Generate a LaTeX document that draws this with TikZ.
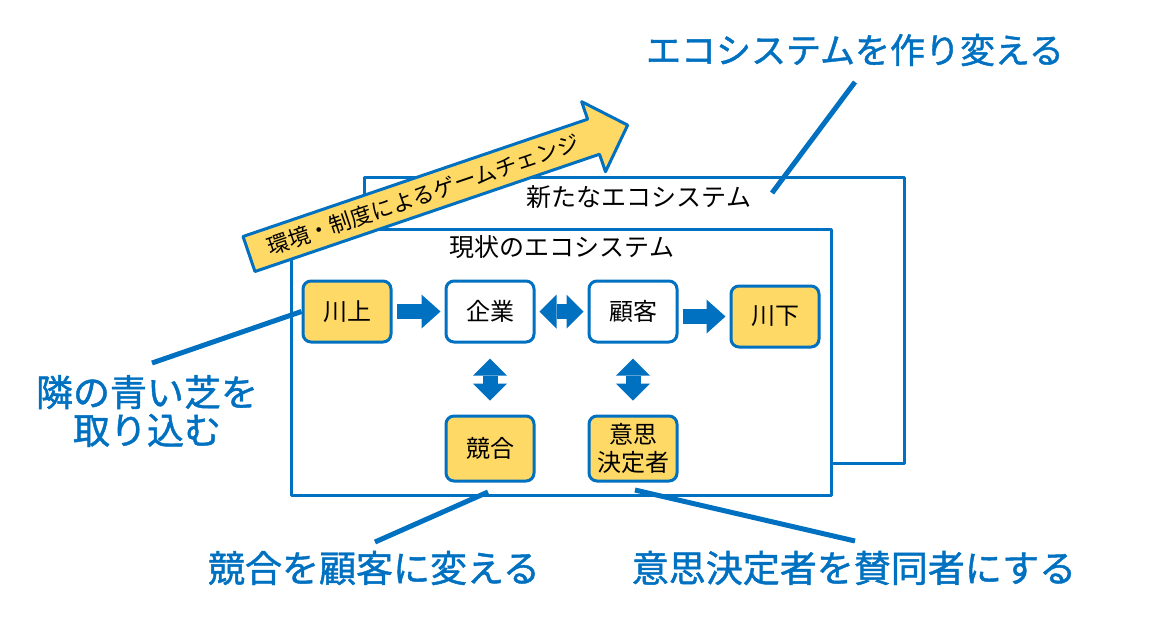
\documentclass[tikz,border=0pt]{standalone}
\usepackage{fontspec}
\setmainfont{Noto Sans CJK JP}
\newfontfamily\memofont{Noto Sans CJK JP}[FakeBold=1.2]
\usetikzlibrary{arrows.meta}
\definecolor{ecoblue}{HTML}{0070C0}
\definecolor{ecoyellow}{HTML}{FFD966}

\begin{document}
\begin{tikzpicture}[line cap=round,line join=round,x=0.5pt,y=-0.5pt,
  actor/.style={draw=ecoblue,line width=1.5pt,rounded corners=4pt,fill=ecoyellow,
    minimum width=44pt,minimum height=30.5pt,inner sep=0pt,align=center,
    font=\fontsize{12pt}{14pt}\selectfont},
  firm/.style={actor,fill=white},
  eco/.style={draw=ecoblue,line width=1.5pt,fill=white},
  ecolabel/.style={inner sep=0pt,font=\fontsize{12.5pt}{15pt}\selectfont},
  memo/.style={text=ecoblue,inner sep=0pt,align=center,
    font=\fontsize{18.5pt}{19pt}\memofont},
  lead/.style={draw=ecoblue,line width=2.5pt,line cap=butt},
  flow/.style={draw=ecoblue,line width=7.5pt,line cap=butt,shorten <=2pt,shorten >=2pt,
    -{Triangle[length=9.5pt,width=17pt,line width=0pt]}},
  swap/.style={flow,{Triangle[length=8.5pt,width=17pt,line width=0pt]}-{Triangle[length=8.5pt,width=17pt,line width=0pt]}}]
\useasboundingbox (0,0) rectangle (1150,628);
%\clip (0,0) rectangle (1150,628);
% the two ecosystems
\draw[eco] (364,177) rectangle (904,463);
\draw[eco] (291,229) rectangle (831,495);
\node[ecolabel] (newlabel) at (639,197) {新たなエコシステム};
\node[ecolabel] (nowlabel) at (562,247) {現状のエコシステム};
% game change arrow
\begin{scope}[shift={(249,254)},rotate=18.8]
\draw[line width=1.5pt,draw=ecoblue,fill=ecoyellow] (0,-18.5)-- (364,-18.5)-- (364,-37)-- (400,0)-- (364,37)-- (364,18.5)-- (0,18.5)-- cycle;
\node[transform shape,inner sep=0pt,font=\fontsize{11pt}{13pt}\selectfont] (change) at (184,0) {環境・制度によるゲームチェンジ};
\end{scope}
% players
\node[actor] (kawakami) at (347,311.5) {川上};
\node[firm] (kigyo) at (490,311.5) {企業};
\node[firm] (kokyaku) at (633,311.5) {顧客};
\node[actor] (kawashimo) at (775,316.5) {川下};
\node[actor,minimum height=32.5pt] (kyogo) at (490,448.5) {競合};
\node[actor,minimum height=32.5pt] (ishi) at (633,448.5) {意思\\決定者};
\draw[flow] (kawakami) -- (kigyo);
\draw[swap] (kigyo) -- (kokyaku);
\draw[flow] (kokyaku.east |- kawashimo) -- (kawashimo);
\draw[swap,shorten <=7.5pt,shorten >=7pt] (kigyo) -- (kyogo);
\draw[swap,shorten <=7.5pt,shorten >=7pt] (kokyaku) -- (ishi);
% notes
\node[memo,font=\fontsize{17.5pt}{19pt}\memofont] (remake) at (855,50) {エコシステムを作り変える};
\node[memo] (grass) at (147,411) {隣の青い芝を\\取り込む};
\node[memo] (rival) at (374,568) {競合を顧客に変える};
\node[memo] (convert) at (854,568) {意思決定者を賛同者にする};
\coordinate (remake tip) at (855,82);
\coordinate (remake foot) at (772,193);
\coordinate (grass tip) at (152,363);
\coordinate (rival tip) at (375,542);
\coordinate (rival foot) at (488,492);
\coordinate (convert tip) at (855,541);
\coordinate (convert foot) at (635,490);
\draw[lead] (remake tip)-- (remake foot);
\draw[lead] (kawakami.west)-- (grass tip);
\draw[lead] (rival tip)-- (rival foot);
\draw[lead] (convert tip)-- (convert foot);
\end{tikzpicture}
\end{document}
